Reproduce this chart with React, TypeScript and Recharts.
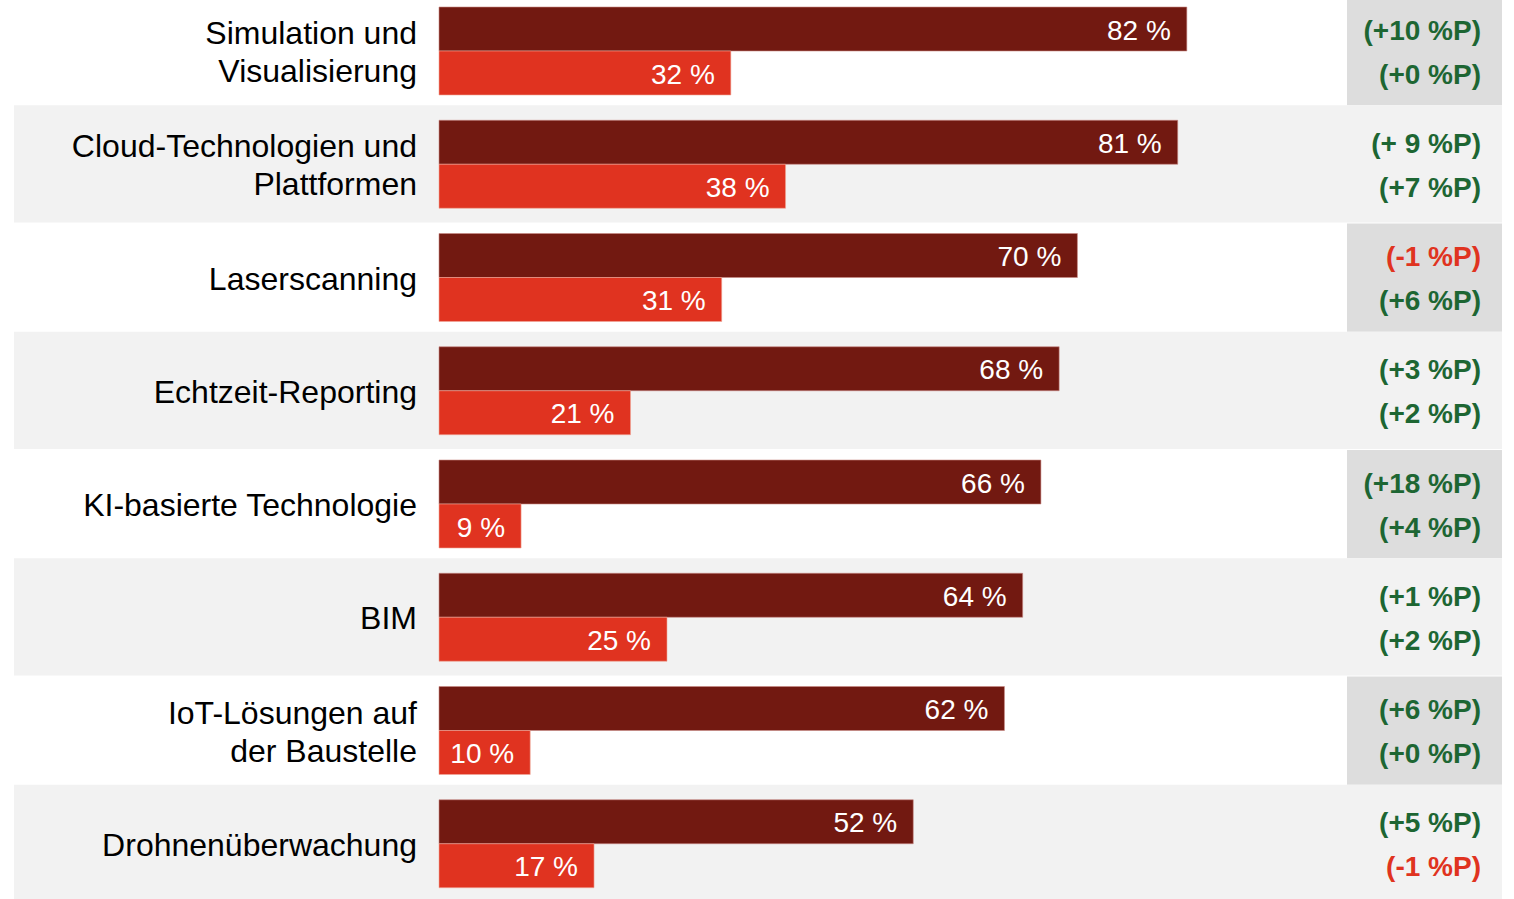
import React from "react";
import { BarChart, Bar, XAxis, YAxis, LabelList, ReferenceArea } from "recharts";

const categories = [
  "Simulation und\nVisualisierung",
  "Cloud-Technologien und\nPlattformen",
  "Laserscanning",
  "Echtzeit-Reporting",
  "KI-basierte Technologie",
  "BIM",
  "IoT-Lösungen auf\nder Baustelle",
  "Drohnenüberwachung",
];
const current = [82, 81, 70, 68, 66, 64, 62, 52];
const other = [32, 38, 31, 21, 9, 25, 10, 17];
const deltaCurrent = ["(+10 %P)", "(+ 9 %P)", "(-1 %P)", "(+3 %P)", "(+18 %P)", "(+1 %P)", "(+6 %P)", "(+5 %P)"];
const deltaOther = ["(+0 %P)", "(+7 %P)", "(+6 %P)", "(+2 %P)", "(+4 %P)", "(+2 %P)", "(+0 %P)", "(-1 %P)"];

const data = categories.map((name, i) => ({
  name,
  current: current[i],
  other: other[i],
  d1: deltaCurrent[i],
  d2: deltaOther[i],
}));

const W = 1514;
const FONT = "'Liberation Sans', Arial, sans-serif";
const DARK = "#721911";
const RED = "#e03320";
const GREEN = "#1d6633";

const CatTick = ({ x, y, payload }: any) => {
  const lines = String(payload.value).split("\n");
  const lh = 38;
  const y0 = y + 1.5 - ((lines.length - 1) * lh) / 2;
  return (
    <text x={x - 14} y={y0} textAnchor="end" dominantBaseline="central" fontSize={32} fontFamily={FONT} fill="#000">
      {lines.map((l, i) => (
        <tspan key={i} x={x - 14} y={y0 + i * lh}>{l}</tspan>
      ))}
    </text>
  );
};

const valueLabel = (props: any) => {
  const { x, y, width, height, value } = props;
  return (
    <text x={x + width - 16} y={y + height / 2 + 1} textAnchor="end" dominantBaseline="central" fontSize={28} fontFamily={FONT} fill="#fff">
      {value} %
    </text>
  );
};

const deltaLabel = (props: any) => {
  const { y, height, value } = props;
  const neg = String(value).startsWith("(-");
  return (
    <text x={W - 33} y={y + height / 2 + 1} textAnchor="end" dominantBaseline="central" fontSize={28} fontWeight="bold" fontFamily={FONT} fill={neg ? RED : GREEN}>
      {value}
    </text>
  );
};

const rowShape = (i: number) => (props: any) => {
  const { y, height } = props;
  if (i % 2 === 1) {
    return <rect x={14} y={y - 2} width={W - 12 - 14} height={height + 4} fill="#f2f2f2" />;
  }
  return <rect x={1347} y={y + 3} width={W - 12 - 1347} height={height - 5} fill="#dddddd" />;
};

export default function App() {
  return (
    <div style={{ position: "absolute", left: 0, top: 0, width: W, height: 899, overflow: "hidden", background: "#fff" }}>
      <div style={{ marginTop: -6 }}>
        <BarChart
          width={W}
          height={906}
          data={data}
          layout="vertical"
          margin={{ top: 0, right: 163, left: 0, bottom: 0 }}
          barGap={0}
          barCategoryGap={0}
        >
          {categories.map((c, i) => (
            <ReferenceArea key={c} y1={c} y2={c} shape={rowShape(i)} ifOverflow="visible" />
          ))}
          <XAxis type="number" domain={[0, 100]} hide />
          <YAxis
            type="category"
            dataKey="name"
            width={439}
            axisLine={false}
            tickLine={false}
            tick={<CatTick />}
            interval={0}
          />
          <Bar dataKey="current" fill={DARK} barSize={44} isAnimationActive={false} stroke="#c98a84" strokeWidth={0.6}>
            <LabelList dataKey="current" content={valueLabel} />
            <LabelList dataKey="d1" content={deltaLabel} />
          </Bar>
          <Bar dataKey="other" fill={RED} barSize={44} isAnimationActive={false} stroke="#f0a898" strokeWidth={0.6}>
            <LabelList dataKey="other" content={valueLabel} />
            <LabelList dataKey="d2" content={deltaLabel} />
          </Bar>
        </BarChart>
      </div>
    </div>
  );
}
